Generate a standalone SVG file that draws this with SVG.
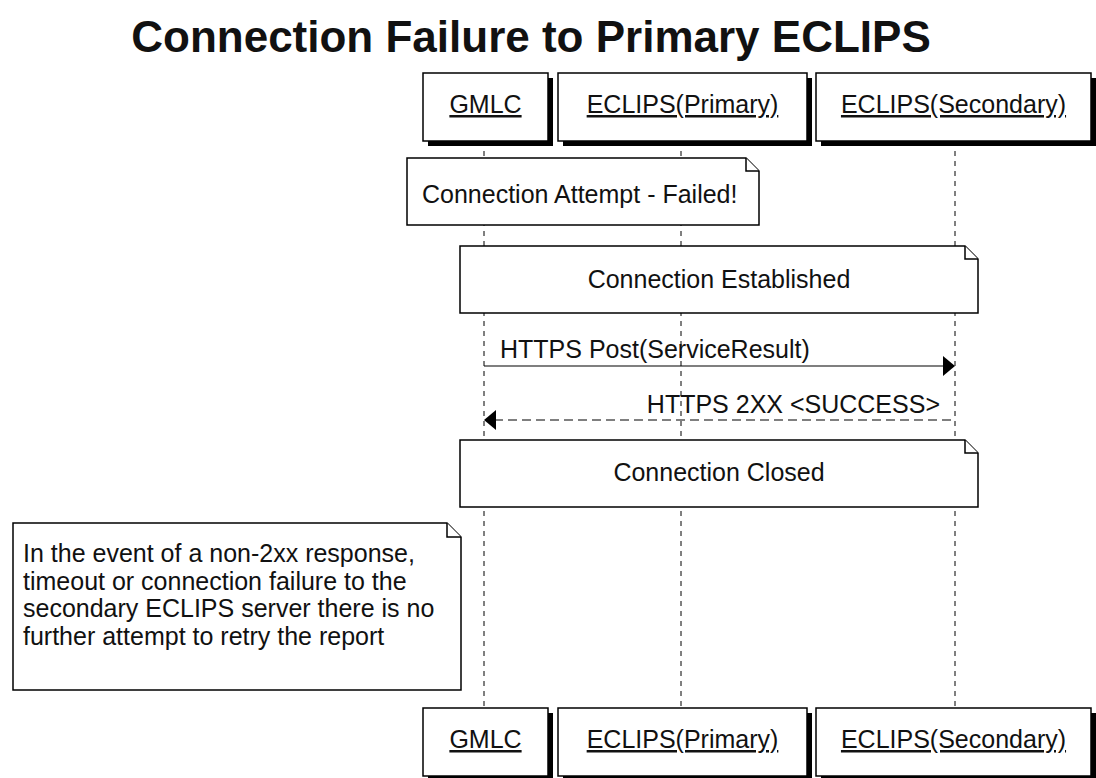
<svg xmlns="http://www.w3.org/2000/svg" width="1096" height="778" viewBox="0 0 1096 778">
<style>
text{font-family:"Liberation Sans",Arial,sans-serif;fill:#111}
.t{font-size:25px}
.title{font-size:44px;font-weight:bold}
.box{fill:#fff;stroke:#000;stroke-width:1.5}
.sh{fill:#000}
.life{stroke:#000;stroke-width:1;stroke-dasharray:5,5}
.note{fill:#fff;stroke:#000;stroke-width:1.5}
.u{text-decoration:underline}
.msg{stroke:#000;stroke-width:1.2;fill:none}
</style>
<rect width="1096" height="778" fill="#fff"/>
<text class="title" x="531" y="52" text-anchor="middle">Connection Failure to Primary ECLIPS</text>

<g id="lifelines">
<line class="life" x1="484" y1="141" x2="484" y2="708"/>
<line class="life" x1="681" y1="141" x2="681" y2="708"/>
<line class="life" x1="955" y1="141" x2="955" y2="708"/>
</g>

<g id="p-gmlc-top">
<rect class="sh" x="428" y="78" width="125" height="68"/>
<rect class="box" x="423" y="73" width="125" height="68"/>
<text class="t u" x="485.5" y="113" text-anchor="middle">GMLC</text>
</g>
<g id="p-primary-top">
<rect class="sh" x="563" y="78" width="249" height="68"/>
<rect class="box" x="558" y="73" width="249" height="68"/>
<text class="t u" x="682.5" y="113" text-anchor="middle">ECLIPS(Primary)</text>
</g>
<g id="p-secondary-top">
<rect class="sh" x="821" y="78" width="275" height="68"/>
<rect class="box" x="816" y="73" width="275" height="68"/>
<text class="t u" x="953.5" y="113" text-anchor="middle">ECLIPS(Secondary)</text>
</g>

<g id="note-failed">
<path class="note" d="M407,158 H746 L759,171 V225 H407 Z"/>
<path class="note" d="M746,158 V171 H759"/>
<text class="t" x="422" y="203">Connection Attempt - Failed!</text>
</g>

<g id="note-established">
<path class="note" d="M460,246 H965 L978,259 V313 H460 Z"/>
<path class="note" d="M965,246 V259 H978"/>
<text class="t" x="719" y="288" text-anchor="middle">Connection Established</text>
</g>

<g id="connectors">
<line class="msg" x1="484" y1="366" x2="945" y2="366"/>
<polygon points="943,356 955,366 943,376" fill="#000"/>
<text class="t" x="500" y="358">HTTPS Post(ServiceResult)</text>
<line class="msg" x1="494" y1="420" x2="955" y2="420" stroke-dasharray="9,5"/>
<polygon points="496,410 484,420 496,430" fill="#000"/>
<text class="t" x="940" y="413" text-anchor="end">HTTPS 2XX &lt;SUCCESS&gt;</text>
</g>

<g id="note-closed">
<path class="note" d="M460,440 H965 L978,453 V507 H460 Z"/>
<path class="note" d="M965,440 V453 H978"/>
<text class="t" x="719" y="481" text-anchor="middle">Connection Closed</text>
</g>

<g id="note-info">
<path class="note" d="M13,523 H447 L461,537 V690 H13 Z"/>
<path class="note" d="M447,523 V537 H461"/>
<text class="t" x="23" y="562">In the event of a non-2xx response,</text>
<text class="t" x="23" y="590">timeout or connection failure to the</text>
<text class="t" x="23" y="617">secondary ECLIPS server there is no</text>
<text class="t" x="23" y="645">further attempt to retry the report</text>
</g>

<g id="p-gmlc-bottom">
<rect class="sh" x="428" y="713" width="125" height="68"/>
<rect class="box" x="423" y="708" width="125" height="68"/>
<text class="t u" x="485.5" y="748" text-anchor="middle">GMLC</text>
</g>
<g id="p-primary-bottom">
<rect class="sh" x="563" y="713" width="249" height="68"/>
<rect class="box" x="558" y="708" width="249" height="68"/>
<text class="t u" x="682.5" y="748" text-anchor="middle">ECLIPS(Primary)</text>
</g>
<g id="p-secondary-bottom">
<rect class="sh" x="821" y="713" width="275" height="68"/>
<rect class="box" x="816" y="708" width="275" height="68"/>
<text class="t u" x="953.5" y="748" text-anchor="middle">ECLIPS(Secondary)</text>
</g>
</svg>
